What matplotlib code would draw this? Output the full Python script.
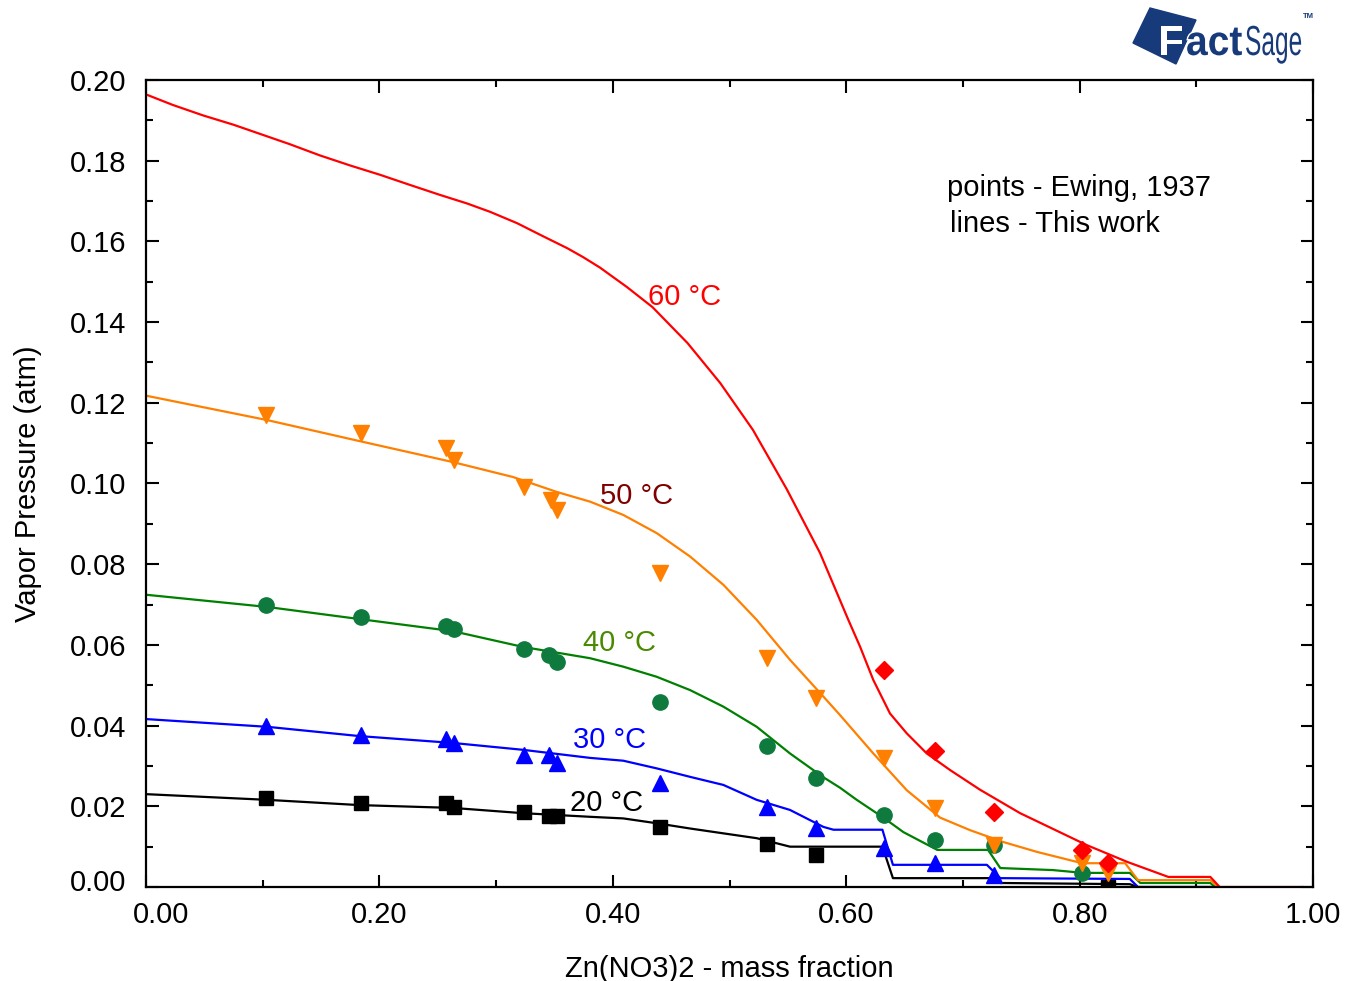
import numpy as np
import matplotlib
matplotlib.use("Agg")
import matplotlib.pyplot as plt
import matplotlib.transforms as mtransforms
import matplotlib.patheffects as pe
from matplotlib.patches import Polygon, PathPatch
from matplotlib.textpath import TextPath
from matplotlib.font_manager import FontProperties

plt.rcParams['font.family'] = ['Liberation Sans', 'DejaVu Sans']

# --- calculated curves (this work) ---
x60 = [0.001, 0.023, 0.049, 0.075, 0.098, 0.123, 0.149, 0.175, 0.2005, 0.226, 0.252,
       0.275, 0.295, 0.318, 0.340, 0.361, 0.3745, 0.389, 0.400, 0.412, 0.423,
       0.434, 0.464, 0.492, 0.520, 0.549, 0.5775, 0.6018, 0.6118, 0.6232, 0.6375, 0.6518,
       0.669, 0.6889, 0.7147, 0.749, 0.806, 0.841, 0.876, 0.912, 0.920, 0.991]
y60 = [0.1963, 0.1938, 0.1912, 0.1889, 0.1866, 0.1841, 0.1813, 0.1788, 0.1765, 0.1740, 0.1715,
       0.1694, 0.1673, 0.1645, 0.1613, 0.1583, 0.1561, 0.1535, 0.1512, 0.1487, 0.1462,
       0.1437, 0.1348, 0.1249, 0.1133, 0.0986, 0.0828, 0.0662, 0.0596, 0.0513, 0.0430, 0.0381,
       0.0331, 0.0290, 0.0241, 0.0183, 0.0104, 0.0062, 0.0025, 0.0025, 0.0, 0.0]

x50 = [0.001, 0.104, 0.183, 0.263, 0.3145, 0.352, 0.3805, 0.409, 0.4376, 0.4662, 0.4947,
       0.5233, 0.5518, 0.5804, 0.5947, 0.6232, 0.6518, 0.6804, 0.706, 0.734, 0.7635,
       0.798, 0.806, 0.839, 0.850, 0.912, 0.919]
y50 = [0.1217, 0.1157, 0.1105, 0.1053, 0.1016, 0.0979, 0.0955, 0.0922, 0.0877, 0.0819, 0.0749,
       0.0662, 0.0563, 0.0472, 0.0426, 0.0331, 0.0240, 0.0172, 0.0141, 0.0112, 0.0087,
       0.0062, 0.0059, 0.0059, 0.0017, 0.0017, 0.0]

x40 = [0.001, 0.104, 0.183, 0.263, 0.323, 0.3805, 0.409, 0.4376, 0.4662, 0.4947, 0.5233,
       0.5518, 0.5804, 0.5947, 0.609, 0.6318, 0.649, 0.678, 0.7215, 0.732, 0.777, 0.803, 0.843,
       0.852, 0.912, 0.916]
y40 = [0.0724, 0.0694, 0.0664, 0.0634, 0.0595, 0.0567, 0.0546, 0.0521, 0.0488, 0.0447, 0.0397,
       0.0331, 0.0272, 0.0246, 0.0216, 0.0172, 0.0136, 0.0092, 0.0092, 0.0047, 0.0042, 0.0035, 0.0035,
       0.0010, 0.0010, 0.0]

x30 = [0.001, 0.104, 0.183, 0.263, 0.323, 0.3805, 0.409, 0.4376, 0.4662, 0.4947, 0.5233,
       0.5518, 0.5804, 0.589, 0.631, 0.640, 0.7205, 0.732, 0.843, 0.850, 0.915]
y30 = [0.0416, 0.0397, 0.0374, 0.0357, 0.0340, 0.0320, 0.0313, 0.0294, 0.0273, 0.0253, 0.0216,
       0.0191, 0.0149, 0.0142, 0.0142, 0.0055, 0.0055, 0.0022, 0.0020, 0.0, 0.0]

x20 = [0.001, 0.104, 0.183, 0.263, 0.323, 0.3805, 0.409, 0.4376, 0.4662, 0.4947, 0.5233,
       0.5518, 0.631, 0.640, 0.723, 0.732, 0.843, 0.850, 0.915]
y20 = [0.0230, 0.0216, 0.0203, 0.0196, 0.0183, 0.0174, 0.0170, 0.0158, 0.0145, 0.0133, 0.0121,
       0.0100, 0.0100, 0.0022, 0.0022, 0.0010, 0.0007, 0.0, 0.0]

# --- experimental points (Ewing, 1937) ---
xp20 = [0.103, 0.184, 0.257, 0.264, 0.324, 0.345, 0.352, 0.440, 0.532, 0.574, 0.824]
yp20 = [0.0221, 0.0208, 0.0208, 0.0198, 0.0186, 0.0176, 0.0176, 0.0149, 0.0107, 0.0079, 0.0]

xp30 = [0.103, 0.184, 0.257, 0.264, 0.324, 0.345, 0.352, 0.440, 0.532, 0.574, 0.632, 0.676, 0.727, 0.824]
yp30 = [0.0399, 0.0377, 0.0367, 0.0357, 0.0327, 0.0327, 0.0307, 0.0258, 0.0198, 0.0146, 0.0097, 0.0059, 0.0030, 0.0]

xp40 = [0.103, 0.184, 0.257, 0.264, 0.324, 0.345, 0.352, 0.440, 0.532, 0.574, 0.632, 0.676, 0.727, 0.802]
yp40 = [0.0699, 0.0669, 0.0647, 0.0639, 0.0590, 0.0575, 0.0558, 0.0458, 0.0349, 0.0270, 0.0178, 0.0116, 0.0104, 0.0035]

xp50 = [0.103, 0.184, 0.257, 0.264, 0.324, 0.347, 0.352, 0.440, 0.532, 0.574, 0.632, 0.676, 0.727, 0.802, 0.824]
yp50 = [0.1170, 0.1125, 0.1088, 0.1058, 0.0991, 0.0959, 0.0934, 0.0778, 0.0568, 0.0468, 0.0320, 0.0196, 0.0104, 0.0060, 0.0035]

xp60 = [0.632, 0.676, 0.727, 0.802, 0.824]
yp60 = [0.0538, 0.0337, 0.0186, 0.0092, 0.0060]

fig = plt.figure(figsize=(13.47, 9.81), dpi=100)
ax = fig.add_axes([0.1084, 0.0958, 0.8664, 0.8227])

lw = 1.6
ax.plot(x20, y20, color='black', lw=lw)
ax.plot(x30, y30, color='#0000ff', lw=lw)
ax.plot(x40, y40, color='#008000', lw=lw)
ax.plot(x50, y50, color='#ff8000', lw=lw)
ax.plot(x60, y60, color='#ff0000', lw=lw)

ax.plot(xp30, yp30, '^', color='#0000ff', ms=11.5, ls='none')
ax.plot(xp20, yp20, 's', color='black', ms=10, ls='none')
ax.plot(xp40, yp40, 'o', color='#0f7a3e', ms=11, ls='none')
ax.plot(xp50, yp50, 'v', color='#ff8000', ms=11.5, ls='none')
ax.plot(xp60, yp60, 'D', color='#ff0000', ms=9.5, ls='none')

fs = 21
ax.text(0.430, 0.1462, '60 °C', color='#ff0000', fontsize=fs, va='center')
ax.text(0.389, 0.0969, '50 °C', color='#800000', fontsize=fs, va='center')
ax.text(0.3745, 0.0605, '40 °C', color='#4a8a00', fontsize=fs, va='center')
ax.text(0.366, 0.0364, '30 °C', color='#0000ff', fontsize=fs, va='center')
ax.text(0.363, 0.0208, '20 °C', color='black', fontsize=fs, va='center')

ax.text(0.686, 0.866, 'points - Ewing, 1937', transform=ax.transAxes, fontsize=fs, va='center')
ax.text(0.689, 0.821, 'lines - This work', transform=ax.transAxes, fontsize=fs, va='center')

ax.set_xlim(0, 1.0)
ax.set_ylim(0, 0.20)
ax.set_xticks(np.arange(0, 1.01, 0.2))
ax.set_xticks(np.arange(0, 1.01, 0.1), minor=True)
ax.set_yticks(np.arange(0, 0.201, 0.02))
ax.set_yticks(np.arange(0, 0.201, 0.01), minor=True)
ax.xaxis.set_major_formatter(matplotlib.ticker.FormatStrFormatter('%.2f'))
ax.yaxis.set_major_formatter(matplotlib.ticker.FormatStrFormatter('%.2f'))
ax.tick_params(which='both', direction='in', top=True, right=True, width=1.5, labelsize=fs)
ax.tick_params(which='major', length=9)
ax.tick_params(which='minor', length=5)
ax.tick_params(axis='x', pad=10)
ax.tick_params(axis='y', pad=14)
for sp in ax.spines.values():
    sp.set_linewidth(1.6)

ax.set_xlabel('Zn(NO3)2 - mass fraction', fontsize=fs)
ax.set_ylabel('Vapor Pressure (atm)', fontsize=fs)
ax.xaxis.set_label_coords(0.5, -0.084)
ax.yaxis.set_label_coords(-0.089, 0.5)

# shift the corner tick labels like the original
fig.canvas.draw()
xl = ax.get_xticklabels()
xl[0].set_transform(xl[0].get_transform() + mtransforms.ScaledTranslation(0.15, 0, fig.dpi_scale_trans))
yl = ax.get_yticklabels()
yl[0].set_transform(yl[0].get_transform() + mtransforms.ScaledTranslation(0, 0.07, fig.dpi_scale_trans))

# FactSage logo (pixel positions, top-left origin)
navy = '#173a7a'
W, H = 1347.0, 981.0


def logo_text(s, x, y, em_x, em_y, color, weight='normal'):
    tp = TextPath((0, 0), s, size=1, prop=FontProperties(family='Liberation Sans', weight=weight))
    tr = mtransforms.Affine2D().scale(em_x / W, em_y / H).translate(x / W, 1 - y / H) + fig.transFigure
    p = PathPatch(tp, color=color, lw=0, transform=tr)
    fig.add_artist(p)
    return p


logo = [(1150, 8), (1196, 20), (1176, 64), (1133, 43)]
fig.add_artist(Polygon([(px / W, 1 - py / H) for px, py in logo], closed=True,
                       transform=fig.transFigure, color=navy))
logo_text('F', 1158, 55, 42, 42, 'white', 'bold')
a = logo_text('act', 1186, 55, 39, 42, navy, 'bold')
a.set_path_effects([pe.withStroke(linewidth=2, foreground='white')])
logo_text('Sage', 1245, 55, 24.5, 42, navy)
fig.text(1303 / W, 1 - 18 / H, 'TM', color=navy, fontsize=5.5, fontweight='bold')

fig.savefig('out.png', dpi=100)
